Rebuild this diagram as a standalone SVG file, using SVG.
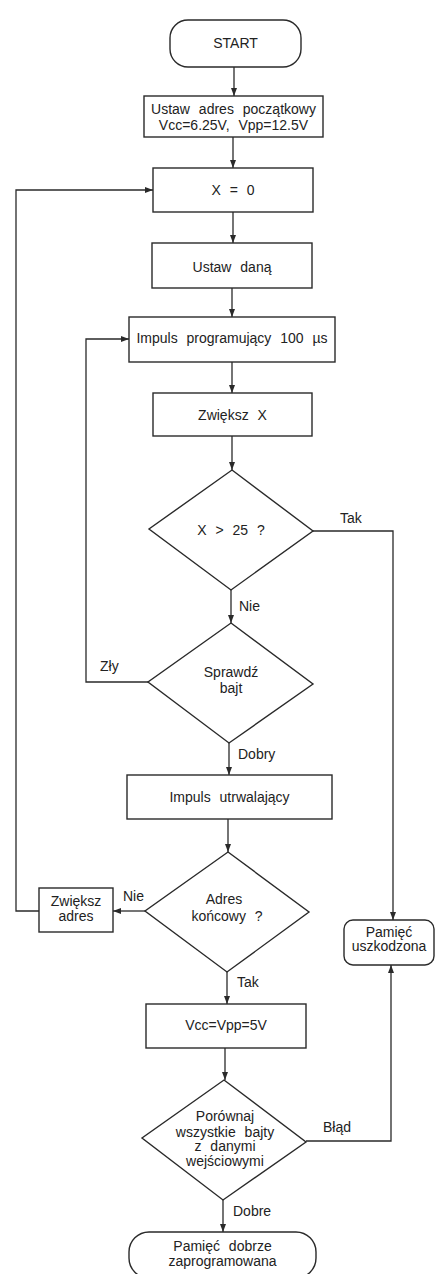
<svg xmlns="http://www.w3.org/2000/svg" width="436" height="1274" viewBox="0 0 436 1274">
<style>
.s{fill:#fff;stroke:#2a2a2a;stroke-width:1.4}
.c{fill:none;stroke:#2a2a2a;stroke-width:1.3}
text{font-family:"Liberation Sans",Arial,sans-serif;font-size:14px;fill:#222;word-spacing:5px}
.m{text-anchor:middle}
</style>
<defs>
<marker id="a" markerUnits="userSpaceOnUse" markerWidth="8" markerHeight="6" refX="8" refY="3" orient="auto">
<path d="M0,0 L8,3 L0,6 z" fill="#2a2a2a"/>
</marker>
</defs>
<rect width="436" height="1274" fill="#fff"/>
<g id="connectors">
<path class="c" marker-end="url(#a)" d="M234,67 V96"/>
<path class="c" marker-end="url(#a)" d="M233,137 V168"/>
<path class="c" marker-end="url(#a)" d="M233,212 V243"/>
<path class="c" marker-end="url(#a)" d="M232,288 V317"/>
<path class="c" marker-end="url(#a)" d="M232,362 V393"/>
<path class="c" marker-end="url(#a)" d="M232,436 V470"/>
<path class="c" marker-end="url(#a)" d="M231,590 V623"/>
<path class="c" marker-end="url(#a)" d="M313,531 H393 V920"/>
<path class="c" marker-end="url(#a)" d="M148,682 H86 V339 H129"/>
<path class="c" marker-end="url(#a)" d="M229,743 V775"/>
<path class="c" marker-end="url(#a)" d="M228,819 V852"/>
<path class="c" marker-end="url(#a)" d="M145,911 H113"/>
<path class="c" marker-end="url(#a)" d="M39,911 H16 V190 H153"/>
<path class="c" marker-end="url(#a)" d="M227,972 V1004"/>
<path class="c" marker-end="url(#a)" d="M225,1048 V1080"/>
<path class="c" marker-end="url(#a)" d="M306,1141 H391 V965"/>
<path class="c" marker-end="url(#a)" d="M223,1200 V1232"/>
<text x="340" y="523">Tak</text>
<text x="239" y="611">Nie</text>
<text x="100" y="671">Zły</text>
<text x="238" y="759">Dobry</text>
<text x="123" y="901">Nie</text>
<text x="237" y="987">Tak</text>
<text x="323" y="1132">Błąd</text>
<text x="233" y="1216">Dobre</text>
</g>
<g id="start">
<rect class="s" x="170" y="20" width="131" height="47" rx="18"/>
<text class="m" x="235.5" y="48">START</text>
</g>
<g id="ustaw-adres">
<rect class="s" x="144" y="96" width="179" height="41"/>
<text class="m" x="233.5" y="114">Ustaw adres początkowy</text>
<text class="m" x="233.5" y="130">Vcc=6.25V, Vpp=12.5V</text>
</g>
<g id="x0">
<rect class="s" x="153" y="168" width="160" height="44"/>
<text class="m" x="233" y="195">X = 0</text>
</g>
<g id="ustaw-dana">
<rect class="s" x="152" y="243" width="160" height="45"/>
<text class="m" x="232" y="272">Ustaw daną</text>
</g>
<g id="impuls-prog">
<rect class="s" x="129" y="317" width="206" height="45"/>
<text class="m" x="232" y="343">Impuls programujący 100 µs</text>
</g>
<g id="zwieksz-x">
<rect class="s" x="153" y="393" width="159" height="43"/>
<text class="m" x="232.5" y="420">Zwiększ X</text>
</g>
<g id="d-x25">
<path class="s" d="M232,470 L313,531 L231,590 L149,529 Z"/>
<text class="m" x="231" y="535">X &gt; 25 ?</text>
</g>
<g id="d-sprawdz">
<path class="s" d="M231,623 L313,684 L229,743 L148,682 Z"/>
<text class="m" x="231" y="677">Sprawdź</text>
<text class="m" x="231" y="693">bajt</text>
</g>
<g id="impuls-utrw">
<rect class="s" x="127" y="775" width="205" height="44"/>
<text class="m" x="229.5" y="802">Impuls utrwalający</text>
</g>
<g id="d-adres">
<path class="s" d="M228,852 L309,912 L227,972 L145,911 Z"/>
<text class="m" x="224" y="904">Adres</text>
<text class="m" x="227" y="921">końcowy ?</text>
</g>
<g id="zwieksz-adres">
<rect class="s" x="39" y="888" width="74" height="44"/>
<text class="m" x="76" y="906">Zwiększ</text>
<text class="m" x="76" y="921">adres</text>
</g>
<g id="pamiec-uszk">
<rect class="s" x="344" y="920" width="90" height="45" rx="9"/>
<text class="m" x="389" y="937">Pamięć</text>
<text class="m" x="389" y="951">uszkodzona</text>
</g>
<g id="vcc5">
<rect class="s" x="146" y="1004" width="160" height="44"/>
<text class="m" x="226" y="1030">Vcc=Vpp=5V</text>
</g>
<g id="d-porownaj">
<path class="s" d="M224,1080 L306,1142 L223,1200 L142,1138 Z"/>
<text class="m" x="225" y="1121">Porównaj</text>
<text class="m" x="225" y="1137">wszystkie bajty</text>
<text class="m" x="225" y="1151">z danymi</text>
<text class="m" x="225" y="1166">wejściowymi</text>
</g>
<g id="pamiec-ok">
<rect class="s" x="129" y="1232" width="187" height="46" rx="20"/>
<text class="m" x="222.5" y="1251">Pamięć dobrze</text>
<text class="m" x="222.5" y="1266">zaprogramowana</text>
</g>
</svg>
